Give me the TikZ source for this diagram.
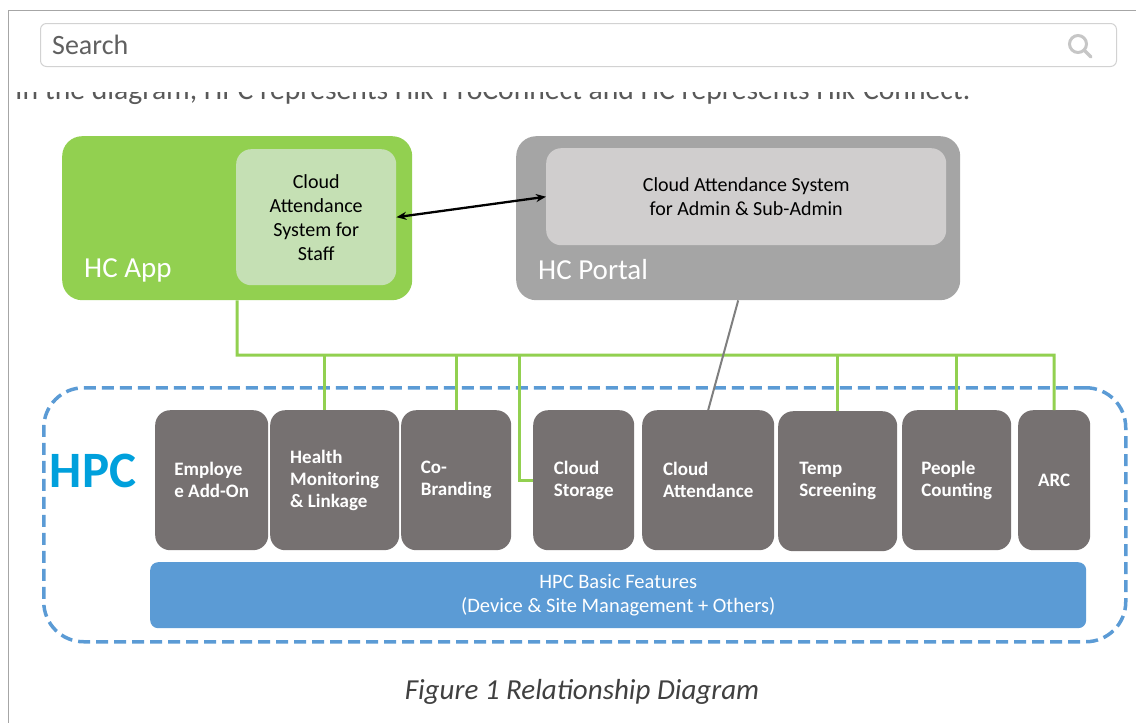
\documentclass[tikz,border=0pt]{standalone}
\usepackage{fontspec}
\setmainfont{Carlito}
\usepackage{graphicx}
\usetikzlibrary{arrows.meta, positioning}

\definecolor{appgreen}{HTML}{92D050}
\definecolor{staffgreen}{HTML}{C5E0B4}
\definecolor{portalgray}{HTML}{A5A5A5}
\definecolor{admingray}{HTML}{D0CECE}
\definecolor{featgray}{HTML}{767171}
\definecolor{hpcblue}{HTML}{5B9BD5}
\definecolor{hpctext}{RGB}{0,160,220}
\definecolor{linegray}{HTML}{7F7F7F}

\begin{document}
\begin{tikzpicture}[
    x=1pt, y=-1pt,
    panel/.style={rectangle, rounded corners=20pt, anchor=north west,
                  minimum width=350pt, minimum height=164pt, inner sep=0pt},
    inner/.style={rectangle, rounded corners=15pt, anchor=north west,
                  inner sep=0pt, align=center, text=black,
                  font=\fontsize{20}{24}\selectfont},
    tag/.style={anchor=west, text=white, inner sep=0pt,
                font=\fontsize{29}{34}\selectfont},
    feat/.style={rectangle, rounded corners=15pt, fill=featgray, anchor=north west,
                 minimum height=140pt, inner sep=0pt, align=left, text=white,
                 font=\fontsize{19}{22}\selectfont\bfseries},
    bus/.style={draw=appgreen, line width=3pt},
    arrow/.style={{Stealth[length=10pt,width=8pt]}-{Stealth[length=10pt,width=8pt]}, line width=2.3pt}
]
\useasboundingbox (0,0) rectangle (1136,723);

% Page frame and search bar
\draw[gray!70, line width=1pt] (8,723) -- (8,10) -- (1136,10);
\node[draw=gray!35, line width=1pt, rounded corners=6pt, anchor=north west,
      minimum width=1076pt, minimum height=43pt, inner sep=0pt] (search) at (40,23) {};
\node[anchor=west, text=gray!75!black, inner sep=0pt,
      font=\fontsize{28}{30}\selectfont] (searchtxt) at (52,45) {Search};
\draw[gray!45, line width=3pt] (1078,44) circle (8.5pt);
\draw[gray!45, line width=3.5pt, line cap=round] (1084.5,50.5) -- (1091,57);

% Clipped intro line
\begin{scope}
  \clip (9,92) rectangle (1136,110);
  \node[anchor=base west, text=gray!70!black, inner sep=0pt] (intro) at (15,99)
    {\resizebox{955pt}{!}{\fontsize{28}{32}\selectfont In the diagram, HPC represents Hik-ProConnect and HC represents Hik-Connect.}};
\end{scope}

% HC App / HC Portal
\node[panel, fill=appgreen] (app) at (62,136) {};
\node[inner, fill=staffgreen, minimum width=160pt, minimum height=136pt] (staff) at (236,149)
  {Cloud\\Attendance\\System for\\Staff};
\node[tag] (applabel) at (84,270) {HC App};

\node[panel, fill=portalgray, minimum width=444pt] (portal) at (516,136) {};
\node[inner, fill=admingray, minimum width=400pt, minimum height=97pt] (admin) at (546,148)
  {Cloud Attendance System\\for Admin \& Sub-Admin};
\node[tag] (portallabel) at (538,270) {HC Portal};

\draw[arrow] (staff.east) -- (admin.west);

% HPC area
\node[draw=hpcblue, line width=3.5pt, dash pattern=on 12pt off 6pt, rounded corners=40pt,
      anchor=north west, minimum width=1082pt, minimum height=254pt, inner sep=0pt] (hpcarea) at (42,386) {};
\node[text=hpctext, inner sep=0pt, font=\fontsize{51}{56}\selectfont\bfseries] (hpc) at (93,471) {HPC};

% Feature boxes
\node[feat, minimum width=113pt] (emp) at (155,410) {Employe\\e Add-On};
\node[feat, minimum width=129pt] (health) at (270,410) {Health\\Monitoring\\\& Linkage};
\node[feat, minimum width=110pt] (brand) at (401,410) {Co-\\Branding};
\node[feat, minimum width=101pt] (storage) at (533,410) {Cloud\\Storage};
\node[feat, minimum width=132pt] (attend) at (642,410) {Cloud\\Attendance};
\node[feat, minimum width=119pt] (temp) at (778,411) {Temp\\Screening};
\node[feat, minimum width=109pt] (people) at (902,410) {People\\Counting};
\node[feat, minimum width=72pt] (arc) at (1018,410) {ARC};

\node[rectangle, rounded corners=8pt, fill=hpcblue, anchor=north west, minimum width=936pt,
      minimum height=66pt, inner sep=0pt, align=center, text=white,
      font=\fontsize{20.5}{24}\selectfont] (basic) at (150,562)
  {HPC Basic Features\\(Device \& Site Management + Others)};

% Connections
\coordinate (busend) at (1054,355);
\coordinate (stdrop) at (519,355);
\draw[bus] (app.south) |- (busend) -- (arc.north);
\draw[bus] ([xshift=-10pt]health.north) -- ([xshift=-10pt]health.north |- busend);
\draw[bus] (brand.north) -- (brand.north |- busend);
\draw[bus] (stdrop) |- (storage.west);
\draw[bus] (temp.north) -- (temp.north |- busend);
\draw[bus] (people.north) -- (people.north |- busend);
\draw[linegray, line width=2pt] (portal.south) -- (attend.north);

% Caption
\node[text=black!75, inner sep=0pt, font=\fontsize{29}{33}\selectfont\itshape] (caption) at (582,692)
  {Figure 1 Relationship Diagram};

\end{tikzpicture}
\end{document}
